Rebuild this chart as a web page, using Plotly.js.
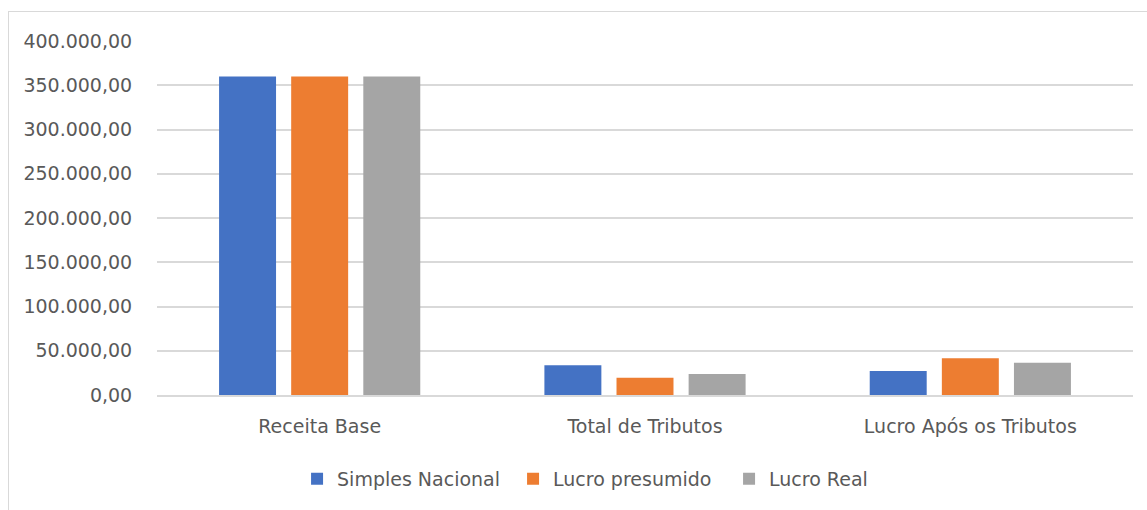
<!DOCTYPE html>
<html>
<head>
<meta charset="utf-8">
<script src="https://cdn.plot.ly/plotly-3.0.1.min.js"></script>
<style>
html,body{margin:0;padding:0;background:#fff;}
#wrap{position:relative;width:1147px;height:510px;}
#chart{width:1147px;height:510px;}
#frame{position:absolute;left:8px;top:11px;width:1147px;height:510px;border-left:1px solid #d9d9d9;border-top:1px solid #d9d9d9;pointer-events:none;}
</style>
</head>
<body>
<div id="wrap"><div id="chart"></div><div id="frame"></div></div>
<script>
const categories = ["Receita Base", "Total de Tributos", "Lucro Após os Tributos"];
const seriesNames = ["Simples Nacional", "Lucro presumido", "Lucro Real"];
const simplesNacional = [360000, 33500, 27200];
const lucroPresumido = [360000, 19600, 41400];
const lucroReal = [360000, 23800, 36500];
const colors = ["#4472c4", "#ed7d31", "#a5a5a5"];
const allValues = [simplesNacional, lucroPresumido, lucroReal];

const font = {family: "DejaVu Sans, sans-serif", size: 19, color: "#595959"};

const traces = allValues.map((vals, i) => ({
  type: "bar",
  name: seriesNames[i],
  x: categories,
  y: vals,
  marker: {color: colors[i]},
  hoverinfo: "skip"
}));

const layout = {
  width: 1147,
  height: 510,
  margin: {l: 157, r: 14, t: 41, b: 115},
  paper_bgcolor: "#fff",
  plot_bgcolor: "#fff",
  font: font,
  separators: ",.",
  barmode: "group",
  bargap: 0.335,
  bargroupgap: 0.21,
  showlegend: true,
  legend: {
    orientation: "h",
    x: 0.1435, xanchor: "left",
    y: -0.237, yanchor: "middle",
    font: font,
    itemwidth: 30,
    entrywidth: 171,
    entrywidthmode: "pixels",
    traceorder: "normal"
  },
  xaxis: {
    type: "category",
    showgrid: false,
    showline: true,
    linecolor: "#d9d9d9",
    linewidth: 2,
    ticks: "outside",
    ticklen: 13,
    tickcolor: "rgba(0,0,0,0)",
    tickfont: font,
    fixedrange: true
  },
  yaxis: {
    range: [0, 400000],
    tickvals: [0, 50000, 100000, 150000, 200000, 250000, 300000, 350000, 400000],
    tickformat: ",.2f",
    showgrid: true,
    gridcolor: "#d9d9d9",
    gridwidth: 2,
    zeroline: false,
    showline: false,
    ticks: "outside",
    ticklen: 20,
    tickcolor: "rgba(0,0,0,0)",
    tickfont: font,
    fixedrange: true
  }
};

Plotly.newPlot("chart", traces, layout, {displayModeBar: false, staticPlot: true});
</script>
</body>
</html>
